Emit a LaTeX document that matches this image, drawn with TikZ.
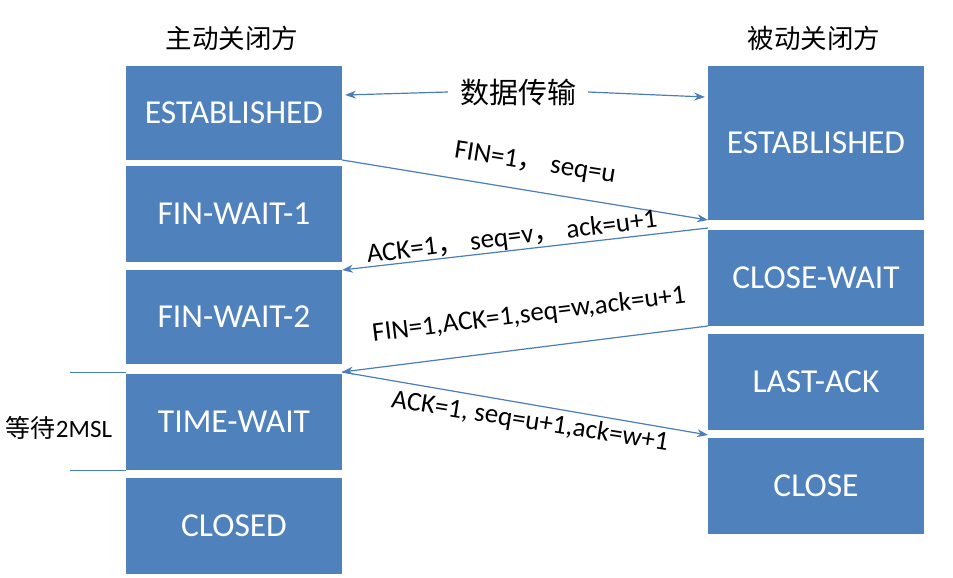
\documentclass[tikz,border=0pt]{standalone}
\usepackage{fontspec}
\setmainfont{Carlito}
\newfontfamily\cjk{Noto Sans CJK SC}
\usetikzlibrary{arrows.meta}
\definecolor{bx}{HTML}{4F81BD}
\definecolor{ln}{HTML}{4A7EBB}
\begin{document}
\begin{tikzpicture}[x=1pt,y=-1pt,
 box/.style={draw=none,fill=bx,text=white,font=\fontsize{33.5}{38}\selectfont,minimum width=216pt,inner sep=0},
 arr/.style={draw=ln,line width=1.2pt,-{Stealth[length=11pt,width=8pt]}},
 lab/.style={font=\fontsize{27}{31}\selectfont}]
\useasboundingbox (0,0) rectangle (953,578);
\node[box,minimum height=94pt] (e1) at (234,113) {ESTABLISHED};
\node[box,minimum height=96pt] (f1) at (234,214) {FIN-WAIT-1};
\node[box,minimum height=94pt] (f2) at (234,317) {FIN-WAIT-2};
\node[box,minimum height=96pt] (tw) at (234,422) {TIME-WAIT};
\node[box,minimum height=96pt] (cl) at (234,526) {CLOSED};
\node[box,minimum height=154pt] (e2) at (816,143) {ESTABLISHED};
\node[box,minimum height=96pt] (cw) at (816,278) {CLOSE-WAIT};
\node[box,minimum height=96pt] (la) at (816,382) {LAST-ACK};
\node[box,minimum height=96pt] (c2) at (816,486) {CLOSE};
\node[font=\cjk\fontsize{26.5}{30}\selectfont] (t1) at (232,38) {主动关闭方};
\node[font=\cjk\fontsize{26.5}{30}\selectfont] (t2) at (814,38) {被动关闭方};
\node[font=\cjk\fontsize{29}{33}\selectfont,inner sep=12pt] (dt) at (518,92) {数据传输};
\coordinate (dl) at (345,95); \coordinate (dr) at (705,97);
\draw[arr] (dt.west) -- (dl);
\draw[arr] (dt.east) -- (dr);
\coordinate (a1s) at (342,160); \coordinate (a1e) at (708,220);
\coordinate (a2s) at (708,228); \coordinate (a2e) at (342,270);
\coordinate (a3s) at (708,326); \coordinate (a3e) at (342,372);
\coordinate (a4s) at (342,372); \coordinate (a4e) at (708,435);
\draw[arr] (a1s) -- (a1e);
\draw[arr] (a2s) -- (a2e);
\draw[arr] (a3s) -- (a3e);
\draw[arr] (a4s) -- (a4e);
\node[lab,rotate=-9] at (535,164) {FIN=1{\cjk ，}\ seq=u};
\node[lab,rotate=7] at (512,238) {ACK=1{\cjk ，}\ seq=v{\cjk ，}\ ack=u+1};
\node[lab,rotate=7] at (529,315) {FIN=1,ACK=1,seq=w,ack=u+1};
\node[lab,rotate=-9] at (530,422) {ACK=1, seq=u+1,ack=w+1};
\coordinate (m1) at (70,372); \coordinate (m2) at (70,470);
\draw[ln,line width=0.8pt] (m1) -- (126,372);
\draw[ln,line width=0.8pt] (m2) -- (126,470);
\node[font=\fontsize{25}{29}\selectfont] (ms) at (59,428) {{\cjk 等待}2MSL};
\end{tikzpicture}
\end{document}
